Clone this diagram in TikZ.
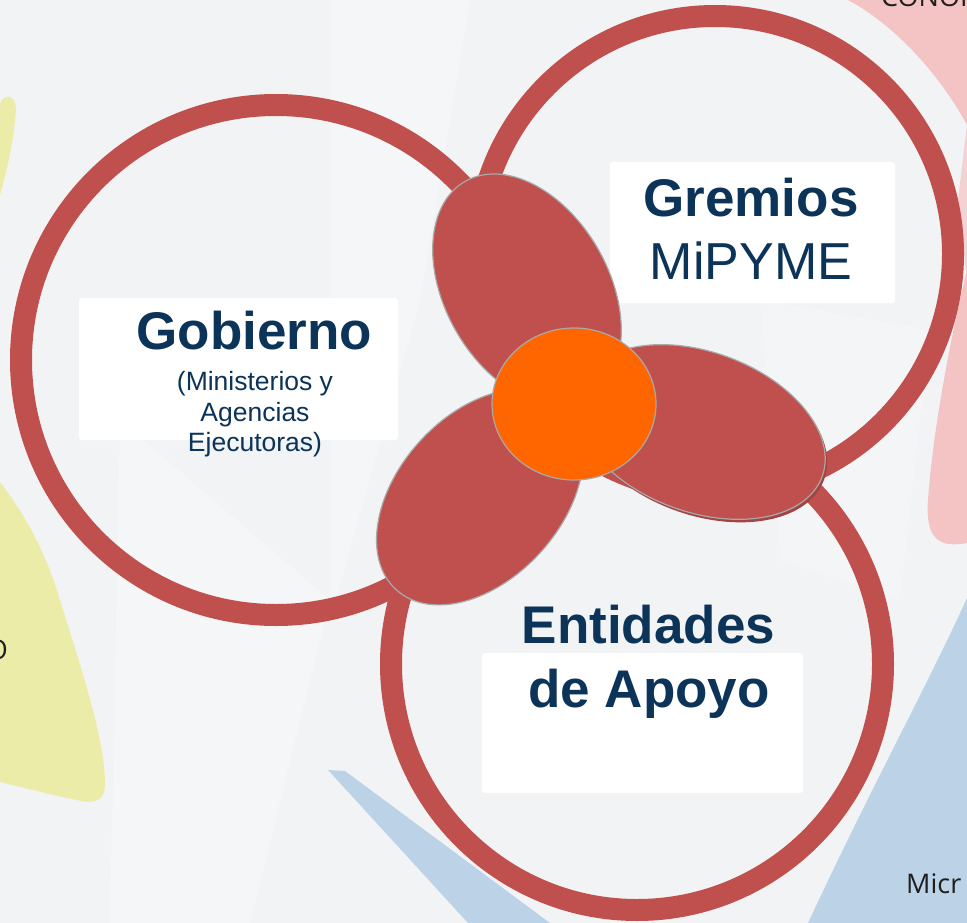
\documentclass[tikz,border=0pt]{standalone}
\usepackage{fontspec}
\setmainfont{Liberation Sans}
\newfontfamily\osans{Open Sans}
\definecolor{ringred}{HTML}{C0504D}
\definecolor{navy}{HTML}{0C3358}
\definecolor{bgc}{HTML}{F2F3F5}
\definecolor{ylw}{HTML}{ECECA9}
\definecolor{pnk}{HTML}{F4C3C4}
\definecolor{blu}{HTML}{BCD3E7}
\definecolor{orng}{HTML}{FF6600}
\definecolor{edgegray}{HTML}{A9A9A9}
\definecolor{fragtext}{HTML}{1E1E1E}
\tikzset{
  ring/.style={draw=ringred, line width=22pt},
  petal/.style={fill=ringred, draw=edgegray, line width=1.2pt},
  hub/.style={fill=orng, draw=edgegray, line width=1.2pt},
  labelbox/.style={fill=white, rounded corners=3pt},
  bigbold/.style={font=\bfseries\fontsize{53}{63}\selectfont, text=navy, anchor=base, inner sep=0pt},
  bigreg/.style={font=\fontsize{52}{63}\selectfont, text=navy, anchor=base, inner sep=0pt},
  smallreg/.style={font=\fontsize{26.5}{30}\selectfont, text=navy, anchor=base, inner sep=0pt},
  frag/.style={font=\osans\fontsize{27}{30}\selectfont, text=fragtext, inner sep=0pt}
}
\begin{document}
\begin{tikzpicture}[x=1pt,y=-1pt]
\useasboundingbox (0,0) rectangle (967,923);
\clip (0,0) rectangle (967,923);
% background
\fill[bgc] (0,0) rectangle (967,923);
\fill[white,opacity=0.3] (330,0) -- (470,0) -- (420,300) -- (330,620) -- cycle;
\fill[white,opacity=0.25] (120,420) -- (330,600) -- (250,923) -- (110,923) -- cycle;
\fill[white,opacity=0.2] (760,300) -- (930,330) -- (900,600) -- (780,560) -- cycle;
% coloured background blobs
\fill[ylw] (0,195) -- (0,104) .. controls (3,94) and (16,93) .. (16,110) .. controls (14,140) and (7,170) .. (0,195) -- cycle;
\fill[ylw] (0,482) .. controls (25,515) and (45,550) .. (60,600) .. controls (80,665) and (104,735) .. (105,782) .. controls (106,800) and (95,804) .. (82,801) .. controls (55,796) and (25,788) .. (0,782) -- cycle;
\fill[pnk] (848,0) .. controls (895,25) and (940,75) .. (967,125) -- (967,0) -- cycle;
\fill[pnk!70!bgc] (967,125) -- (958,200) -- (967,280) -- cycle;
\fill[pnk] (967,270) .. controls (950,340) and (933,430) .. (928,500) .. controls (925,540) and (940,548) .. (967,543) -- cycle;
\fill[blu] (967,598) .. controls (930,680) and (870,790) .. (808,923) -- (967,923) -- cycle;
\fill[blu] (328,770) -- (345,771) -- (550,923) -- (468,923) -- cycle;
% text fragments from neighbouring elements (cut by the frame, as in the source)
\node[frag, anchor=base west] (cono) at (881,7) {CONOI};
\node[frag, anchor=base west] (micr) at (906,893) {Micr};
\node[frag, anchor=base east] (leftfrag) at (8,659) {O};
% three rings
\draw[ring] (276,360) circle[radius=255pt];
\draw[ring] (715,254) circle[radius=238pt];
\draw[ring] (637,664) circle[radius=246pt];
% label boxes
\fill[labelbox] (79,298) rectangle (398,440);
\fill[labelbox] (610,162) rectangle (895,303);
\fill[labelbox] (482,653) rectangle (803,793);
% petals
\draw[petal, rotate around={-60.4:(527,290)}] (527,290) ellipse[x radius=125pt, y radius=82pt];
\fill[ringred!85!black, rotate around={-20:(702,435)}] (702,435) ellipse[x radius=130pt, y radius=80pt];
\draw[petal, rotate around={-20:(700,432)}] (700,432) ellipse[x radius=130pt, y radius=80pt];
\draw[petal, rotate around={48:(480,497)}] (480,497) ellipse[x radius=125pt, y radius=82pt];
% centre
\draw[hub] (574,404) ellipse[x radius=82pt, y radius=76pt];
% labels
\node[bigbold] (gob) at (254.5,349) {Gobierno};
\node[smallreg] (gob1) at (255,390) {(Ministerios y};
\node[smallreg] (gob2) at (255,421) {Agencias};
\node[smallreg] (gob3) at (255,451) {Ejecutoras)};
\node[bigbold] (grem) at (751,216) {Gremios};
\node[bigreg] (mipyme) at (751,279) {MiPYME};
\node[bigbold] (ent) at (648.5,643) {Entidades};
\node[bigbold] (apoyo) at (649,707) {de Apoyo};
\end{tikzpicture}
\end{document}
